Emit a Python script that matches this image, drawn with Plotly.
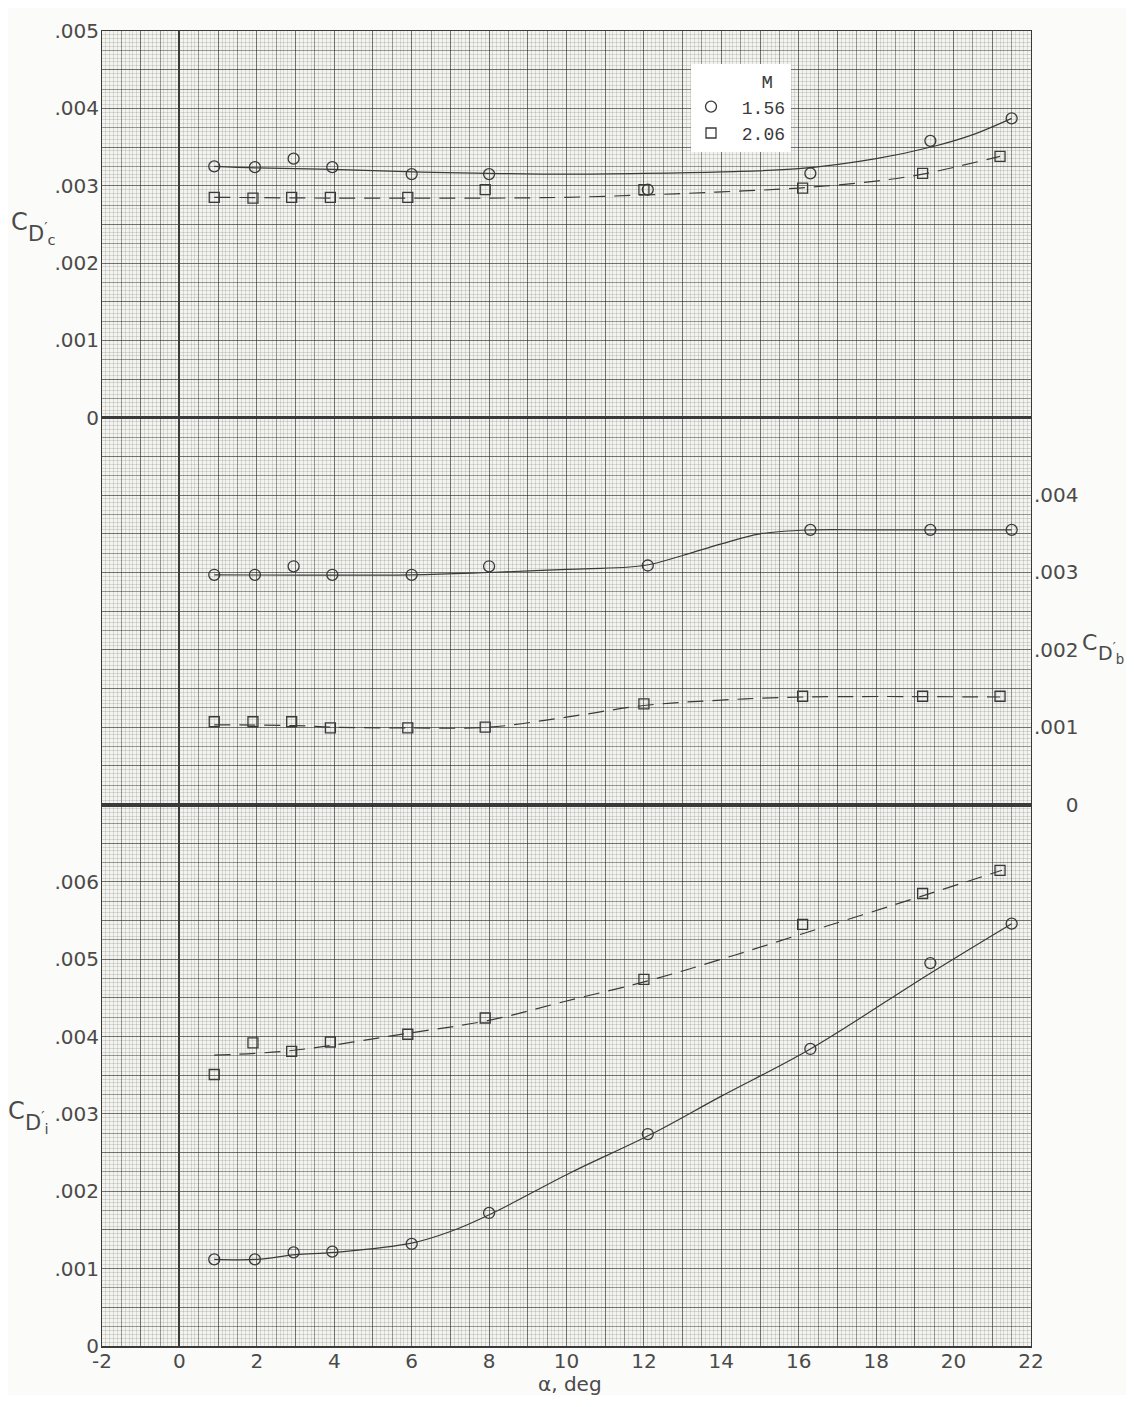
import plotly.graph_objects as go
from plotly.subplots import make_subplots

# ---------------- data ----------------
alpha_m156 = [0.9, 1.95, 2.95, 3.95, 6.0, 8.0, 12.1, 16.3, 19.4, 21.5]
alpha_m206 = [0.9, 1.9, 2.9, 3.9, 5.9, 7.9, 12.0, 16.1, 19.2, 21.2]

cdc_m156 = [0.00325, 0.00324, 0.00335, 0.00324, 0.00315, 0.00315, 0.00295, 0.00316, 0.00358, 0.00387]
cdc_m206 = [0.00285, 0.00284, 0.00285, 0.00285, 0.00285, 0.00295, 0.00295, 0.00297, 0.00316, 0.00338]

cdb_m156 = [0.00297, 0.00297, 0.00308, 0.00297, 0.00297, 0.00308, 0.00309, 0.00355, 0.00355, 0.00355]
cdb_m206 = [0.00107, 0.00107, 0.00107, 0.00099, 0.00099, 0.00100, 0.00130, 0.00140, 0.00140, 0.00140]

cdi_m156 = [0.00112, 0.00112, 0.00121, 0.00122, 0.00132, 0.00172, 0.00274, 0.00384, 0.00495, 0.00546]
cdi_m206 = [0.00351, 0.00392, 0.00381, 0.00393, 0.00403, 0.00424, 0.00474, 0.00545, 0.00585, 0.00615]

# faired curves (hand-drawn fairings)
fair_cdc_156_a = [0.9, 2, 4, 6, 8, 10, 12, 14, 16, 18, 19.5, 20.5, 21.5]
fair_cdc_156 = [0.00325, 0.00323, 0.00321, 0.00318, 0.00316, 0.00315, 0.00316, 0.00318, 0.00322,
                0.00335, 0.00351, 0.00366, 0.00387]
fair_cdc_206_a = [0.9, 4, 8, 10, 12, 14, 16, 18, 19.2, 21.2]
fair_cdc_206 = [0.00285, 0.00284, 0.00284, 0.00285, 0.00288, 0.00292, 0.00297, 0.00306, 0.00315, 0.00338]

fair_cdb_156_a = [0.9, 6, 8, 10, 12, 13, 14, 15, 16.3, 18, 21.5]
fair_cdb_156 = [0.00297, 0.00297, 0.00300, 0.00304, 0.00309, 0.00322, 0.00337, 0.00350, 0.00355,
                0.00355, 0.00355]
fair_cdb_206_a = [0.9, 3, 4, 6, 8, 10, 12, 14, 16.1, 21.2]
fair_cdb_206 = [0.00103, 0.00102, 0.00100, 0.00099, 0.00100, 0.00113, 0.00128, 0.00135, 0.00139, 0.00139]

fair_cdi_156_a = [0.9, 2.0, 3.0, 4.0, 6.0, 7.0, 8.1, 10.1, 12.2, 14.0, 16.3, 19.4, 21.5]
fair_cdi_156 = [0.00112, 0.00112, 0.00118, 0.00121, 0.00133, 0.00148, 0.00172, 0.00224, 0.00274,
                0.00323, 0.00384, 0.00482, 0.00546]
fair_cdi_206_a = [0.9, 2.9, 6.0, 8.0, 10.0, 12.1, 14.0, 16.1, 19.2, 21.25]
fair_cdi_206 = [0.00376, 0.00382, 0.00405, 0.00421, 0.00446, 0.00472, 0.00500, 0.00533, 0.00582, 0.00615]

mach_labels = ["1.56", "2.06"]
x_tick_labels = ["-2", "0", "2", "4", "6", "8", "10", "12", "14", "16", "18", "20", "22"]

# ---------------- styling ----------------
FONT = "DejaVu Sans"
MONO = "Liberation Mono"
INK = "#3a3a3a"
TXT = "#4a4a4a"
GRID_HALF = "rgba(40,40,40,0.36)"    # every 0.5 deg / 0.00025
GRID_UNIT = "rgba(30,30,30,0.30)"    # extra darkening every 1 deg / 0.0005
GRID_FINE = "rgba(70,70,70,0.16)"    # every 0.1 deg / 0.00005
DASH = "16px,9px"

fig = make_subplots(rows=3, cols=1, shared_xaxes=True, vertical_spacing=0,
                    row_heights=[5 / 17, 5 / 17, 7 / 17])

panels = [
    (1, cdc_m156, cdc_m206, fair_cdc_156_a, fair_cdc_156, fair_cdc_206_a, fair_cdc_206),
    (2, cdb_m156, cdb_m206, fair_cdb_156_a, fair_cdb_156, fair_cdb_206_a, fair_cdb_206),
    (3, cdi_m156, cdi_m206, fair_cdi_156_a, fair_cdi_156, fair_cdi_206_a, fair_cdi_206),
]

for row, v156, v206, fa156, f156, fa206, f206 in panels:
    fig.add_trace(go.Scatter(x=fa156, y=f156, mode="lines", showlegend=False, hoverinfo="skip",
                             line=dict(color=INK, width=1.2, shape="spline", smoothing=1.0)),
                  row=row, col=1)
    fig.add_trace(go.Scatter(x=fa206, y=f206, mode="lines", showlegend=False, hoverinfo="skip",
                             line=dict(color=INK, width=1.2, shape="spline", smoothing=1.0, dash=DASH)),
                  row=row, col=1)
    fig.add_trace(go.Scatter(x=alpha_m156, y=v156, mode="markers", name="\u00a0" + mach_labels[0],
                             showlegend=(row == 1), legendrank=1,
                             marker=dict(symbol="circle-open", size=11, color=INK, line=dict(width=1.3))),
                  row=row, col=1)
    fig.add_trace(go.Scatter(x=alpha_m206, y=v206, mode="markers", name="\u00a0" + mach_labels[1],
                             showlegend=(row == 1), legendrank=2,
                             marker=dict(symbol="square-open", size=10, color=INK, line=dict(width=1.3))),
                  row=row, col=1)

# x grid: lines every 0.5 deg, labels every 2 deg, fine lines every 0.1 deg
xgrid_vals = [-2 + 0.5 * i for i in range(49)]
xgrid_text = []
for v in xgrid_vals:
    if abs(v - round(v)) < 1e-9 and int(round(v)) % 2 == 0:
        xgrid_text.append(x_tick_labels[(int(round(v)) + 2) // 2])
    else:
        xgrid_text.append("")

for row in (1, 2, 3):
    fig.update_xaxes(
        row=row, col=1, range=[-2, 22], tickmode="array", tickvals=xgrid_vals, ticktext=xgrid_text,
        showticklabels=(row == 3), ticks="", ticklabelstandoff=-4, ticklabeloverflow="allow",
        showgrid=True, gridcolor=GRID_HALF, gridwidth=1,
        minor=dict(tickmode="linear", tick0=0, dtick=0.1, showgrid=True, gridcolor=GRID_FINE, gridwidth=1),
        zeroline=True, zerolinecolor=INK, zerolinewidth=2,
        showline=True, mirror=True, linecolor=INK, linewidth=(1 if row == 1 else 2),
        tickfont=dict(family=FONT, size=20, color=TXT),
    )


def ygrid(top):
    n = int(round(top / 0.00025))
    return [round(i * 0.00025, 6) for i in range(n + 1)]


def ytext(vals, maxlab, pad_zero=False):
    out = []
    for i, v in enumerate(vals):
        if i % 4 == 0 and i // 4 <= maxlab:
            k = i // 4
            if k == 0:
                out.append("\u2008\u2007\u20070" if pad_zero else "0")
            else:
                out.append(".00%d" % k)
        else:
            out.append("")
    return out


yv1 = ygrid(0.005)
yv2 = ygrid(0.005)
yv3 = ygrid(0.007)
yaxis_specs = [
    (1, [0, 0.005], yv1, ytext(yv1, 5), "left"),
    (2, [0, 0.005], yv2, ytext(yv2, 4, pad_zero=True), "right"),
    (3, [0, 0.007], yv3, ytext(yv3, 6), "left"),
]
for row, rng, vals, txt, side in yaxis_specs:
    fig.update_yaxes(
        row=row, col=1, range=rng, tickmode="array", tickvals=vals, ticktext=txt, side=side,
        ticks="", ticklabelstandoff=-2, ticklabeloverflow="allow",
        showgrid=True, gridcolor=GRID_HALF, gridwidth=1,
        minor=dict(tickmode="linear", tick0=0, dtick=0.00005, showgrid=True, gridcolor=GRID_FINE, gridwidth=1),
        zeroline=False, showline=True, mirror=True, linecolor=INK, linewidth=1,
        tickfont=dict(family=FONT, size=20, color=TXT),
    )

# overlay axes that only add the heavier every-1-deg / every-0.0005 rulings of the graph paper
overlay_layout = {}
for row, rng, vals, txt, side in yaxis_specs:
    k = row + 3
    overlay_layout["xaxis%d" % k] = dict(
        overlaying="x" if row == 1 else "x%d" % row, range=[-2, 22], tickmode="linear", tick0=0, dtick=1,
        showticklabels=False, ticks="", showgrid=True, gridcolor=GRID_UNIT, gridwidth=1,
        zeroline=False, showline=False, anchor="y%d" % k, fixedrange=True)
    overlay_layout["yaxis%d" % k] = dict(
        overlaying="y" if row == 1 else "y%d" % row, range=rng, tickmode="linear", tick0=0, dtick=0.0005,
        showticklabels=False, ticks="", showgrid=True, gridcolor=GRID_UNIT, gridwidth=1,
        zeroline=False, showline=False, anchor="x%d" % k, fixedrange=True)
    fig.add_trace(go.Scatter(x=[None], y=[None], xaxis="x%d" % k, yaxis="y%d" % k,
                             mode="markers", showlegend=False, hoverinfo="skip"))
fig.update_layout(**overlay_layout)

# ---------------- axis titles (page pixels -> paper fractions of plot area) ----------------
# the page body adds an 8 px margin, so the figure is sized to fit inside the 1134x1407 window
L, T, W, H = 102, 19, 929, 1327


def ann(text, px, py, size, xanchor="center", yanchor="middle"):
    return dict(text=text, x=(px - L) / W, y=1 - (py - T) / H, xref="paper", yref="paper",
                showarrow=False, xanchor=xanchor, yanchor=yanchor,
                font=dict(family=FONT, size=size, color=TXT))


SUB = "D<sup>\u2032</sup><sub>%s</sub>"
annotations = [
    # C'_D_c  (top, left)
    ann("C", 19, 212, 24), ann(SUB % "c", 26, 223, 21, xanchor="left"),
    # C'_D_b  (middle, right)
    ann("C", 1089, 636, 22), ann(SUB % "b", 1096, 647, 19, xanchor="left"),
    # C'_D_i  (bottom, left)
    ann("C", 16, 1109, 24), ann(SUB % "i", 23, 1120, 21, xanchor="left"),
    # x title
    ann("\u03b1, deg", 570, 1384, 20),
]

fig.update_layout(
    width=1120, height=1387,
    margin=dict(l=94, r=97, t=11, b=49),
    paper_bgcolor="#fbfbf9", plot_bgcolor="#f3f3f0",
    annotations=annotations,
    legend=dict(
        x=(691 - L) / W, y=1 - (52 - T) / H, xanchor="left", yanchor="top",
        bgcolor="#ffffff", borderwidth=0, tracegroupgap=0, itemwidth=30,
        font=dict(family=MONO, size=18, color=INK),
        title=dict(text="\u00a0" * 6 + "M", side="top", font=dict(family=MONO, size=19, color=INK)),
    ),
    showlegend=True,
)

fig.write_html("out.html")
